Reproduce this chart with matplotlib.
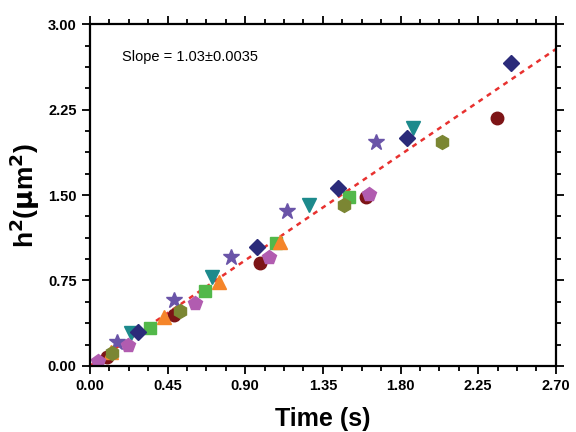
import numpy as np
import matplotlib.pyplot as plt
from matplotlib.ticker import MultipleLocator, AutoMinorLocator

plt.rcParams['font.family'] = ['Liberation Sans', 'DejaVu Sans']

# data: (time s, h^2 um^2) per series
circle_x = [0.10, 0.49, 0.985, 1.60, 2.36]
circle_y = [0.08, 0.45, 0.90, 1.48, 2.18]
diamond_x = [0.28, 0.97, 1.44, 1.84, 2.44]
diamond_y = [0.30, 1.04, 1.56, 2.00, 2.66]
star_x = [0.16, 0.49, 0.82, 1.14, 1.66]
star_y = [0.21, 0.58, 0.96, 1.36, 1.97]
tridown_x = [0.24, 0.71, 1.27, 1.87]
tridown_y = [0.29, 0.78, 1.41, 2.09]
square_x = [0.35, 0.67, 1.08, 1.50]
square_y = [0.33, 0.66, 1.08, 1.48]
triup_x = [0.12, 0.43, 0.75, 1.10]
triup_y = [0.12, 0.43, 0.74, 1.09]
hexa_x = [0.13, 0.52, 1.47, 2.04]
hexa_y = [0.11, 0.48, 1.41, 1.97]
penta_x = [0.05, 0.22, 0.61, 1.04, 1.62]
penta_y = [0.04, 0.18, 0.55, 0.96, 1.51]

slope = 1.03
fit_x = [0.0, 2.7]

fig = plt.figure(figsize=(5.76, 4.32), dpi=100)
ax = fig.add_axes([0.156, 0.153, 0.809, 0.791])

ax.plot(fit_x, [slope * v for v in fit_x], color='#e8312f', ls=(0, (2, 2)), lw=1.8, zorder=1)

ms = 9
ax.plot(circle_x, circle_y, 'o', color='#7d1416', ms=ms, ls='none')
ax.plot(square_x, square_y, 's', color='#52b84a', ms=ms - 0.5, ls='none')
ax.plot(triup_x, triup_y, '^', color='#f5852a', ms=ms + 1, ls='none')
ax.plot(tridown_x, tridown_y, 'v', color='#1c8a8c', ms=ms + 1, ls='none')
ax.plot(diamond_x, diamond_y, 'D', color='#2b2b7a', ms=ms - 0.5, ls='none')
ax.plot(star_x, star_y, '*', color='#6a54a8', ms=ms + 3, ls='none')
ax.plot(hexa_x, hexa_y, 'h', color='#7b8633', ms=ms + 1, ls='none')
ax.plot(penta_x, penta_y, 'p', color='#b15cb0', ms=ms + 1.5, ls='none')

ax.set_xlim(0, 2.7)
ax.set_ylim(0, 3.0)
ax.xaxis.set_major_locator(MultipleLocator(0.45))
ax.yaxis.set_major_locator(MultipleLocator(0.75))
ax.xaxis.set_minor_locator(AutoMinorLocator(4))
ax.yaxis.set_minor_locator(AutoMinorLocator(4))
ax.xaxis.set_major_formatter(plt.FormatStrFormatter('%.2f'))
ax.yaxis.set_major_formatter(plt.FormatStrFormatter('%.2f'))

ax.tick_params(which='both', direction='out', top=True, right=True, width=1.3)
ax.tick_params(which='major', length=6, labelsize=10.5)
ax.tick_params(which='minor', length=3.5)
ax.tick_params(labeltop=False, labelright=False)
for lab in ax.get_xticklabels() + ax.get_yticklabels():
    lab.set_fontweight('bold')
for sp in ax.spines.values():
    sp.set_linewidth(1.6)

ax.set_xlabel('Time (s)', fontsize=18, fontweight='bold', labelpad=10)
ax.set_ylabel(r'h$^{\mathbf{2}}$($\mathbf{\mu}$m$^{\mathbf{2}}$)', fontsize=19, fontweight='bold', labelpad=4)

ax.text(0.068, 0.893, 'Slope = 1.03\u00b10.0035', transform=ax.transAxes, fontsize=10.5)

fig.savefig('out.png', dpi=100)
